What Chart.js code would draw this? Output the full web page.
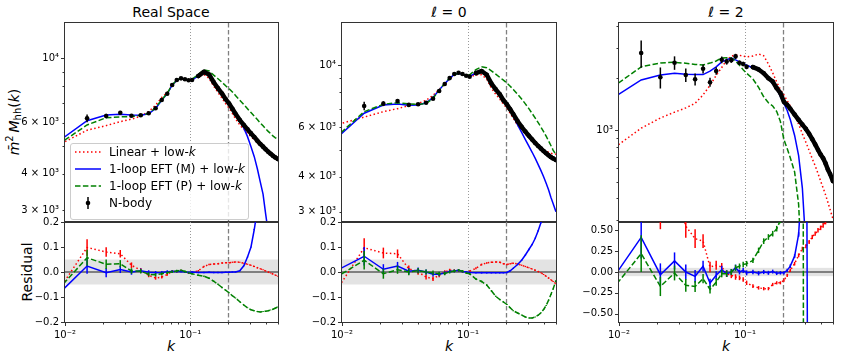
<!DOCTYPE html>
<html>
<head>
<meta charset="utf-8">
<script src="https://cdn.jsdelivr.net/npm/chart.js@4.4.1/dist/chart.umd.min.js"></script>
<style>
  body { margin: 0; background: #fff; font-family: "DejaVu Sans", sans-serif; }
  #fig { position: relative; width: 843px; height: 362px; overflow: hidden; background: #fff; }
  #fig canvas { position: absolute; }
  .lbl { position: absolute; white-space: nowrap; transform: translate(-50%, -50%); color: #000; line-height: 1; }
  .rot { transform: translate(-50%, -50%) rotate(-90deg); }
  .sup { font-size: 10px; position: relative; top: -6px; }
  .sub { font-size: 10px; position: relative; top: 2px; }
  .legend { position: absolute; left: 70px; top: 143px; width: 179px; height: 77px; box-sizing: border-box;
            border: 1px solid #cccccc; border-radius: 3px; background: rgba(255,255,255,0.8); font-size: 12px; z-index: 5; }
  .row { position: absolute; left: 0; width: 175px; height: 14px; }
  .row svg { position: absolute; left: 4px; top: 0; }
  .row span { position: absolute; left: 38px; top: 0; line-height: 14px; white-space: nowrap; }
</style>
</head>
<body>
<div id="fig">
  <div class="lbl" style="left:171px;top:12px;font-size:14px">Real Space</div>
  <div class="lbl" style="left:449px;top:12px;font-size:14px"><i>ℓ</i> = 0</div>
  <div class="lbl" style="left:726px;top:12px;font-size:14px"><i>ℓ</i> = 2</div>
  <div class="lbl rot" style="left:14px;top:122px;font-size:14px"><i>m̄</i><span class="sup">2</span>&#8201;<i>M</i><span class="sub">hh</span>(<i>k</i>)</div>
  <div class="lbl rot" style="left:27px;top:272px;font-size:14px">Residual</div>
  <div class="lbl" style="left:171px;top:346px;font-size:14px"><i>k</i></div>
  <div class="lbl" style="left:449px;top:346px;font-size:14px"><i>k</i></div>
  <div class="lbl" style="left:726px;top:346px;font-size:14px"><i>k</i></div>
  <div class="legend">
    <div class="row" style="top:1px"><svg width="26" height="14"><line x1="0" y1="7" x2="26" y2="7" stroke="#ff0000" stroke-width="1.5" stroke-dasharray="1.5 2.5"/></svg><span>Linear + low-<i>k</i></span></div>
    <div class="row" style="top:18px"><svg width="26" height="14"><line x1="0" y1="7" x2="26" y2="7" stroke="#0000ff" stroke-width="1.5"/></svg><span>1-loop EFT (M) + low-<i>k</i></span></div>
    <div class="row" style="top:35px"><svg width="26" height="14"><line x1="0" y1="7" x2="26" y2="7" stroke="#008000" stroke-width="1.5" stroke-dasharray="5.5 2.4"/></svg><span>1-loop EFT (P) + low-<i>k</i></span></div>
    <div class="row" style="top:52px"><svg width="26" height="14"><line x1="13" y1="1" x2="13" y2="13" stroke="#000" stroke-width="1.5"/><circle cx="13" cy="7" r="2.3" fill="#000"/></svg><span>N-body</span></div>
  </div>
</div>
<script>
// wavenumber bins (h/Mpc)
const kBins = [0.0088, 0.0150, 0.0213, 0.0276, 0.0339, 0.0402, 0.0465, 0.0528, 0.0591, 0.0654,
               0.0716, 0.0779, 0.0842, 0.0905, 0.0968, 0.1031, 0.1157, 0.1283, 0.1409, 0.1535,
               0.1661, 0.1787, 0.1912, 0.2038, 0.2164, 0.2290, 0.2479, 0.2667, 0.2856, 0.3045,
               0.3233, 0.3422, 0.3610, 0.3799, 0.3987, 0.4176, 0.4364, 0.4553, 0.4741, 0.4993];

// Real space
const nbodyReal = [null, 6210, 6325, 6495, 6340, 6360, 6465, 6725, 7180, 7550, 8090, 8415, 8530, 8465, 8400, 8415, 8690, 8980, 8800, 8270, 7880, 7560, 7230, 6980, 6700, 6440, 6125, 5890, 5690, 5510, 5355, 5200, 5065, 4960, 4855, 4765, 4690, 4615, 4555, 4495];
const errReal = [0, 0.03, 0.018, 0.014, 0.011, 0.009, 0.008, 0.007, 0.006, 0.0055, 0.005, 0.0045, 0.004, 0.004, 0.0035, 0.0035, 0.003, 0.003, 0.003, 0.003, 0.0028, 0.0028, 0.0026, 0.0026, 0.0025, 0.0025, 0.0024, 0.0023, 0.0022, 0.0022, 0.0021, 0.002, 0.002, 0.002, 0.002, 0.002, 0.002, 0.002, 0.002, 0.002];
const linReal = [5015, 5650, 5860, 6050, 6170, 6320, 6550, 6890, 7330, 7630, 8070, 8390, 8490, 8465, 8440, 8450, 8650, 8790, 8540, 8010, 7630, 7300, 6970, 6730, 6450, 6190, 5890, 5690, 5520, 5365, 5240, 5110, 5000, 4915, 4835, 4765, 4705, 4650, 4610, 4570];
const eftMReal = [5160, 6095, 6380, 6420, 6380, 6360, 6440, 6720, 7170, 7560, 8080, 8400, 8520, 8470, 8400, 8420, 8700, 8960, 8790, 8270, 7880, 7560, 7230, 6980, 6700, 6430, 6095, 5750, 5370, 4960, 4580, 4160, 3750, 3400, 2900, 2520, 2180, 1880, 1620, 1350];
const eftPReal = [5037, 5890, 6240, 6280, 6300, 6360, 6450, 6760, 7200, 7580, 8100, 8420, 8540, 8480, 8420, 8480, 8800, 9130, 9050, 8750, 8500, 8270, 8040, 7850, 7650, 7450, 7170, 6930, 6700, 6500, 6320, 6150, 5990, 5850, 5720, 5600, 5500, 5400, 5330, 5250];
const resLinReal = [-0.077, 0.098, 0.08, 0.073, 0.027, 0.007, -0.013, -0.024, -0.02, -0.01, 0.003, 0.003, 0.005, 0.0, -0.004, -0.003, 0.005, 0.022, 0.03, 0.032, 0.033, 0.036, 0.037, 0.037, 0.039, 0.04, 0.039, 0.035, 0.031, 0.027, 0.022, 0.017, 0.013, 0.009, 0.004, 0.0, -0.004, -0.008, -0.012, -0.017];
const resMReal = [-0.09, 0.024, -0.003, 0.01, 0.0, 0.005, -0.001, -0.003, -0.002, 0.001, 0.002, 0.003, 0.002, 0.0, -0.002, 0.0, -0.002, -0.002, -0.001, -0.002, -0.002, -0.002, -0.001, -0.001, 0.0, 0.0, 0.005, 0.025, 0.06, 0.1, 0.17, 0.25, 0.37, 0.45, 0.67, 0.9, 1.1, 1.3, 1.6, 2.0];
const resPReal = [-0.071, 0.057, 0.031, 0.033, 0.004, 0.003, -0.009, -0.011, -0.007, -0.003, 0.001, 0.004, 0.007, 0.002, -0.003, -0.007, -0.013, -0.017, -0.025, -0.037, -0.049, -0.062, -0.073, -0.083, -0.095, -0.104, -0.119, -0.132, -0.143, -0.151, -0.155, -0.158, -0.16, -0.158, -0.157, -0.155, -0.152, -0.149, -0.145, -0.14];

// Monopole l = 0
const nbodyL0 = [null, 7155, 7295, 7455, 7220, 7260, 7350, 7600, 8090, 8570, 9000, 9310, 9410, 9310, 9180, 9110, 9380, 9540, 9250, 8600, 8200, 7880, 7500, 7250, 6960, 6690, 6310, 6030, 5800, 5600, 5430, 5280, 5150, 5040, 4940, 4850, 4770, 4700, 4650, 4590];
const errL0 = [0, 0.035, 0.02, 0.016, 0.013, 0.011, 0.01, 0.009, 0.008, 0.007, 0.006, 0.0055, 0.005, 0.0045, 0.004, 0.004, 0.0035, 0.0035, 0.0032, 0.003, 0.003, 0.003, 0.0028, 0.0028, 0.0027, 0.0027, 0.0026, 0.0025, 0.0025, 0.0024, 0.0024, 0.0023, 0.0023, 0.0022, 0.0022, 0.0022, 0.0022, 0.0022, 0.0022, 0.0022];
const linL0 = [6110, 6530, 6830, 7000, 7180, 7300, 7500, 7810, 8200, 8570, 8940, 9265, 9365, 9290, 9180, 9080, 9240, 9260, 8930, 8280, 7880, 7580, 7260, 7040, 6740, 6460, 6110, 5870, 5680, 5510, 5370, 5240, 5140, 5055, 4990, 4930, 4890, 4850, 4830, 4815];
const eftML0 = [5425, 6740, 7210, 7280, 7200, 7210, 7350, 7670, 8160, 8600, 8980, 9270, 9345, 9290, 9180, 9130, 9400, 9570, 9280, 8630, 8230, 7900, 7520, 7270, 6925, 6590, 6125, 5760, 5430, 5140, 4890, 4650, 4420, 4205, 4000, 3790, 3590, 3380, 3210, 3000];
const eftPL0 = [5500, 6830, 7260, 7350, 7280, 7250, 7300, 7620, 8150, 8620, 9000, 9270, 9350, 9280, 9200, 9250, 9650, 9880, 9800, 9550, 9300, 9060, 8850, 8640, 8420, 8200, 7880, 7580, 7280, 7000, 6730, 6480, 6240, 6010, 5790, 5580, 5370, 5170, 4980, 4790];
const resLinL0 = [-0.083, 0.097, 0.076, 0.073, 0.013, 0.0, -0.02, -0.027, -0.013, 0.0, 0.007, 0.005, 0.005, 0.002, 0.0, 0.003, 0.015, 0.03, 0.036, 0.039, 0.04, 0.039, 0.033, 0.03, 0.033, 0.035, 0.032, 0.027, 0.022, 0.017, 0.012, 0.007, 0.002, -0.003, -0.01, -0.017, -0.024, -0.031, -0.038, -0.047];
const resML0 = [0.0025, 0.063, 0.011, 0.024, 0.003, 0.007, 0.0, -0.009, -0.009, -0.004, 0.002, 0.004, 0.007, 0.002, 0.0, -0.002, -0.003, -0.003, -0.003, -0.003, -0.003, -0.003, -0.003, -0.002, 0.005, 0.015, 0.03, 0.047, 0.068, 0.09, 0.11, 0.135, 0.165, 0.198, 0.235, 0.28, 0.33, 0.39, 0.45, 0.53];
const resPL0 = [-0.024, 0.047, -0.007, 0.009, 0.0, 0.005, 0.0, -0.003, -0.007, -0.006, 0.0, 0.004, 0.007, 0.003, -0.004, -0.007, -0.028, -0.038, -0.052, -0.075, -0.097, -0.11, -0.12, -0.13, -0.143, -0.155, -0.164, -0.172, -0.18, -0.184, -0.184, -0.18, -0.173, -0.163, -0.15, -0.134, -0.113, -0.09, -0.068, -0.035];

// Quadrupole l = 2
const nbodyL2 = [null, 2807, 2027, 2460, 2090, 1973, 2270, 1897, 2204, 2560, 2500, 2548, 2680, 2460, 2420, 2330, 2320, 2250, 2140, 2000, 1913, 1750, 1640, 1460, 1400, 1330, 1230, 1145, 1075, 1015, 950, 885, 825, 768, 720, 685, 640, 590, 555, 505];
const errL2 = [0, 0.18, 0.14, 0.09, 0.09, 0.08, 0.06, 0.06, 0.05, 0.045, 0.04, 0.035, 0.035, 0.03, 0.03, 0.03, 0.028, 0.026, 0.025, 0.024, 0.023, 0.022, 0.021, 0.02, 0.02, 0.02, 0.019, 0.019, 0.018, 0.018, 0.018, 0.018, 0.018, 0.018, 0.018, 0.018, 0.018, 0.018, 0.018, 0.018];
const linL2 = [772, 1025, 1175, 1270, 1345, 1430, 1600, 1820, 2080, 2310, 2548, 2690, 2730, 2720, 2690, 2665, 2690, 2770, 2700, 2420, 2150, 1900, 1720, 1600, 1480, 1380, 1220, 1080, 950, 850, 760, 680, 620, 560, 505, 460, 420, 380, 345, 305];
const eftML2 = [1524, 1955, 2090, 2135, 2110, 2100, 2100, 2200, 2330, 2490, 2560, 2620, 2560, 2490, 2430, 2380, 2300, 2230, 2120, 1990, 1860, 1745, 1570, 1430, 1300, 1150, 930, 710, 460, 210, null, null, null, null, null, null, null, null, null, null];
const eftPL2 = [1765, 2330, 2455, 2475, 2445, 2405, 2390, 2450, 2520, 2626, 2630, 2620, 2520, 2380, 2240, 2140, 1980, 1770, 1560, 1440, 1380, 1280, 1120, 880, 780, 690, 570, 370, 130, null, null, null, null, null, null, null, null, null, null, null];
const resLinL2 = [1.6, 1.75, 0.76, 1.05, 0.55, 0.4, 0.37, 0.06, 0.08, 0.06, -0.02, -0.04, -0.06, -0.07, -0.09, -0.13, -0.17, -0.19, -0.2, -0.2, -0.15, -0.13, -0.13, -0.1, -0.04, 0.02, 0.1, 0.2, 0.28, 0.31, 0.36, 0.42, 0.46, 0.5, 0.53, 0.56, 0.6, 0.65, 0.7, 0.75];
const resML2 = [-0.092, 0.416, -0.032, 0.133, 0.0, -0.052, 0.07, -0.133, -0.04, 0.028, -0.02, 0.0, 0.052, 0.0, 0.02, -0.01, 0.0, -0.015, 0.0, -0.01, 0.005, -0.015, -0.01, -0.01, 0.02, 0.07, 0.19, 0.45, 1.2, 3.8, -6, null, null, null, null, null, null, null, null, null];
const resPL2 = [-0.214, 0.22, -0.173, -0.012, -0.16, -0.173, -0.08, -0.21, -0.12, -0.02, -0.02, 0.0, 0.05, 0.07, 0.09, 0.1, 0.14, 0.26, 0.37, 0.42, 0.46, 0.52, 0.62, 0.75, 0.85, 1.0, 1.2, 2.0, 8, -21, null, null, null, null, null, null, null, null, null, null];

// axes
const xTickVals = [0.01, 0.02, 0.03, 0.04, 0.05, 0.06, 0.07, 0.08, 0.09, 0.1, 0.2, 0.3, 0.4, 0.5];
const xTickLabels = ['10⁻²', '', '', '', '', '', '', '', '', '10⁻¹', '', '', '', ''];
const xMajor = [0.01, 0.1];
const kMarks = [0.1, 0.2];   // dotted, dashed verticals

const yTicksPk = [3000, 4000, 5000, 6000, 7000, 8000, 9000, 10000];
const yLabelsPk = ['3 × 10³', '4 × 10³', '', '6 × 10³', '', '', '', '10⁴'];
const yTicksQuad = [300, 400, 500, 600, 700, 800, 900, 1000, 2000, 3000, 4000];
const yLabelsQuad = ['', '', '', '', '', '', '', '10³', '', '', ''];
const yTicksRes = [-0.2, -0.1, 0, 0.1, 0.2];
const yLabelsRes = ['−0.2', '−0.1', '0.0', '0.1', '0.2'];
const yTicksResQuad = [-0.5, -0.25, 0, 0.25, 0.5];
const yLabelsResQuad = ['−0.50', '−0.25', '0.00', '0.25', '0.50'];

Chart.defaults.font.family = "'DejaVu Sans', sans-serif";
Chart.defaults.color = '#000';

const RED = '#ff0000', BLUE = '#0000ff', GREEN = '#008000';
const DOT = [1.5, 2.5], DASH = [5.5, 2.4];

function pts(vals) {
  return kBins.map((k, i) => ({ x: k, y: vals[i] }));
}

function curve(vals, color, dash, order) {
  return { data: pts(vals), borderColor: color, borderWidth: 1.5, borderDash: dash,
           pointRadius: 0, pointHoverRadius: 0, fill: false, tension: 0, order: order };
}

function resCurve(vals, err, color, dash, order) {
  const ds = curve(vals, color, dash, order);
  ds.errLo = vals.map((r, i) => r == null ? null : r - err[i] * Math.abs(1 + r));
  ds.errHi = vals.map((r, i) => r == null ? null : r + err[i] * Math.abs(1 + r));
  ds.errColor = color;
  return ds;
}

function nbody(vals, err) {
  return {
    data: pts(vals), order: 0,
    borderColor: '#000', borderWidth: 4.5, borderCapStyle: 'round', borderJoinStyle: 'round',
    segment: { borderColor: c => c.p0.parsed.x > 0.11 ? '#000' : 'rgba(0,0,0,0)' },
    pointRadius: 2.3, pointHoverRadius: 0, pointBackgroundColor: '#000', pointBorderWidth: 0,
    tension: 0, fill: false,
    errLo: vals.map((v, i) => v == null ? null : v * (1 - err[i])),
    errHi: vals.map((v, i) => v == null ? null : v * (1 + err[i])),
    errColor: '#000'
  };
}

// band, zero line, k markers, error bars, frame and tick marks
function decor(cfg) {
  return {
    id: 'decor',
    beforeDatasetsDraw(chart) {
      const { ctx, chartArea: a, scales: { x, y } } = chart;
      ctx.save();
      ctx.beginPath();
      ctx.rect(a.left, a.top, a.right - a.left, a.bottom - a.top);
      ctx.clip();
      if (cfg.band) {
        const t = y.getPixelForValue(cfg.band), b = y.getPixelForValue(-cfg.band);
        ctx.fillStyle = '#e3e3e3';
        ctx.fillRect(a.left, t, a.right - a.left, b - t);
        const y0 = Math.round(y.getPixelForValue(0));
        ctx.strokeStyle = '#808080';
        ctx.lineWidth = 2;
        ctx.beginPath(); ctx.moveTo(a.left, y0); ctx.lineTo(a.right, y0); ctx.stroke();
      }
      kMarks.forEach((k, i) => {
        const px = Math.round(x.getPixelForValue(k)) + 0.5;
        ctx.strokeStyle = i === 0 ? '#999' : '#808080';
        ctx.lineWidth = i === 0 ? 1 : 1.3;
        ctx.setLineDash(i === 0 ? [1, 2] : [4.5, 2.5]);
        ctx.beginPath(); ctx.moveTo(px, a.top); ctx.lineTo(px, a.bottom); ctx.stroke();
      });
      ctx.restore();
    },
    beforeDatasetDraw(chart, args) {
      const ds = chart.data.datasets[args.index];
      if (!ds.errLo) return;
      const { ctx, chartArea: a, scales: { y } } = chart;
      ctx.save();
      ctx.beginPath();
      ctx.rect(a.left, a.top, a.right - a.left, a.bottom - a.top);
      ctx.clip();
      ctx.strokeStyle = ds.errColor;
      ctx.lineWidth = 1.5;
      args.meta.data.forEach((pt, i) => {
        if (ds.errLo[i] == null || !isFinite(pt.x)) return;
        ctx.beginPath();
        ctx.moveTo(pt.x, y.getPixelForValue(ds.errLo[i]));
        ctx.lineTo(pt.x, y.getPixelForValue(ds.errHi[i]));
        ctx.stroke();
      });
      ctx.restore();
    },
    afterDatasetsDraw(chart) {
      const { ctx, chartArea: a, scales: { x, y } } = chart;
      ctx.save();
      ctx.strokeStyle = '#333';
      ctx.lineWidth = 1;
      ctx.strokeRect(a.left - 0.5, a.top - 0.5, a.right - a.left + 1, a.bottom - a.top + 1);
      y.ticks.forEach(t => {
        const py = Math.round(y.getPixelForValue(t.value)) + 0.5;
        const len = cfg.yMajor.includes(t.value) ? 3.5 : 2;
        ctx.beginPath(); ctx.moveTo(a.left - 0.5, py); ctx.lineTo(a.left - 0.5 - len, py); ctx.stroke();
      });
      if (cfg.xTicks) {
        x.ticks.forEach(t => {
          const px = Math.round(x.getPixelForValue(t.value)) + 0.5;
          const len = xMajor.includes(t.value) ? 3.5 : 2;
          ctx.beginPath(); ctx.moveTo(px, a.bottom + 0.5); ctx.lineTo(px, a.bottom + 0.5 + len); ctx.stroke();
        });
      }
      ctx.restore();
    }
  };
}

function makePanel(col, isRes, datasets, yType, yMin, yMax, yTicks, yLabels, yMajor) {
  const canvas = document.createElement('canvas');
  canvas.width = 60 + col.width + 6;
  canvas.height = isRes ? 132 : 211;
  canvas.style.left = (col.left - 60) + 'px';
  canvas.style.top = (isRes ? 216 : 17) + 'px';
  document.getElementById('fig').appendChild(canvas);

  const xScale = {
    type: 'logarithmic', min: 0.01, max: 0.5, display: isRes,
    afterBuildTicks: s => { s.ticks = xTickVals.map(v => ({ value: v })); },
    ticks: { autoSkip: false, maxRotation: 0, padding: 7, font: { size: 10 },
             callback: (v, i) => xTickLabels[i] },
    grid: { display: false, drawTicks: false },
    border: { display: false }
  };
  if (isRes) {
    xScale.afterFit = s => { s.height = 22; s.paddingLeft = 0; s.paddingRight = 0; };
  }

  new Chart(canvas, {
    type: 'line',
    data: { datasets: datasets },
    options: {
      responsive: false, maintainAspectRatio: false, animation: false, events: [],
      layout: { padding: { left: 0, right: 6, top: 6, bottom: isRes ? 4 : 6 } },
      plugins: { legend: { display: false }, tooltip: { enabled: false } },
      scales: {
        x: xScale,
        y: {
          type: yType, min: yMin, max: yMax,
          afterBuildTicks: s => { s.ticks = yTicks.map(v => ({ value: v })); },
          afterFit: s => { s.width = 60; s.paddingTop = 0; s.paddingBottom = 0; },
          ticks: { autoSkip: false, padding: 6, font: { size: 10 }, callback: (v, i) => yLabels[i] },
          grid: { display: false, drawTicks: false },
          border: { display: false }
        }
      }
    },
    plugins: [decor({ band: isRes ? 0.05 : 0, yMajor: yMajor, xTicks: isRes })]
  });
}

const columns = [
  { left: 65, width: 213 },
  { left: 342, width: 214 },
  { left: 619, width: 214 }
];

// Real space
makePanel(columns[0], false, [
  nbody(nbodyReal, errReal),
  curve(eftPReal, GREEN, DASH, 1), curve(eftMReal, BLUE, [], 2), curve(linReal, RED, DOT, 3)
], 'logarithmic', 2726, 13240, yTicksPk, yLabelsPk, [10000]);
makePanel(columns[0], true, [
  resCurve(resPReal, errReal, GREEN, DASH, 1), resCurve(resMReal, errReal, BLUE, [], 2),
  resCurve(resLinReal, errReal, RED, DOT, 3)
], 'linear', -0.2, 0.2, yTicksRes, yLabelsRes, yTicksRes);

// l = 0
makePanel(columns[1], false, [
  nbody(nbodyL0, errL0),
  curve(eftPL0, GREEN, DASH, 1), curve(eftML0, BLUE, [], 2), curve(linL0, RED, DOT, 3)
], 'logarithmic', 2756, 14160, yTicksPk, yLabelsPk, [10000]);
makePanel(columns[1], true, [
  resCurve(resPL0, errL0, GREEN, DASH, 1), resCurve(resML0, errL0, BLUE, [], 2),
  resCurve(resLinL0, errL0, RED, DOT, 3)
], 'linear', -0.2, 0.2, yTicksRes, yLabelsRes, yTicksRes);

// l = 2
makePanel(columns[2], false, [
  nbody(nbodyL2, errL2),
  curve(eftPL2, GREEN, DASH, 1), curve(eftML2, BLUE, [], 2), curve(linL2, RED, DOT, 3)
], 'logarithmic', 292, 4190, yTicksQuad, yLabelsQuad, [1000]);
makePanel(columns[2], true, [
  resCurve(resPL2, errL2, GREEN, DASH, 1), resCurve(resML2, errL2, BLUE, [], 2),
  resCurve(resLinL2, errL2, RED, DOT, 3)
], 'linear', -0.6, 0.6, yTicksResQuad, yLabelsResQuad, yTicksResQuad);
</script>
</body>
</html>
